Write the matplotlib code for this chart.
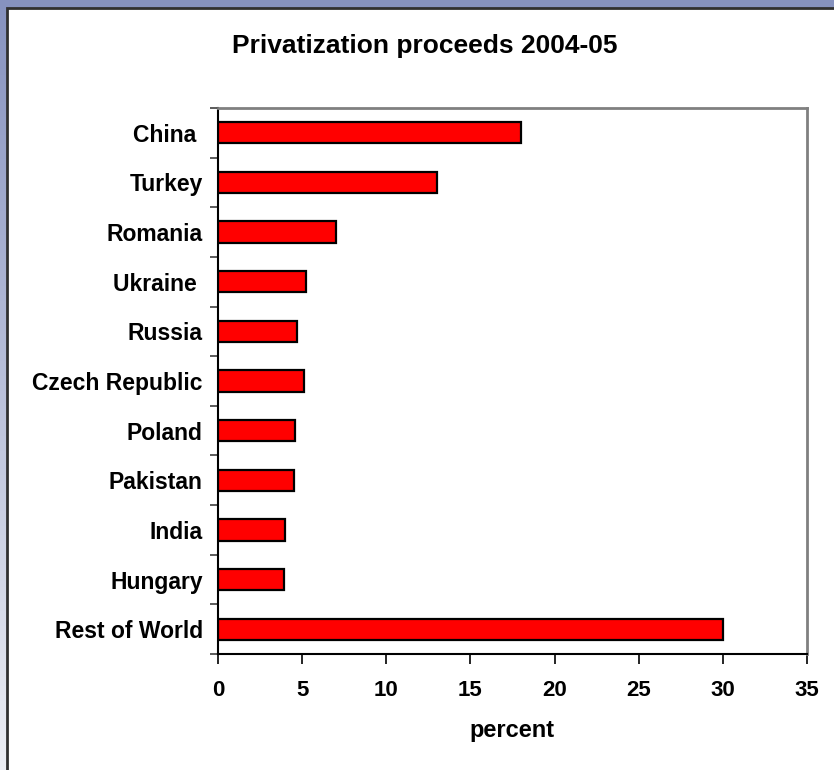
import matplotlib
matplotlib.use("Agg")
import matplotlib.pyplot as plt
import numpy as np
from matplotlib.patches import Rectangle
from matplotlib.ticker import FixedLocator

categories = ["China ", "Turkey", "Romania", "Ukraine ", "Russia", "Czech Republic",
              "Poland", "Pakistan", "India", "Hungary", "Rest of World"]
values = [18.0, 13.0, 7.0, 5.2, 4.7, 5.1, 4.6, 4.5, 4.0, 3.9, 30.0]
xticks = [0, 5, 10, 15, 20, 25, 30, 35]

W, H = 834, 770
fig = plt.figure(figsize=(W / 100, H / 100), dpi=100)

# gradient background
bg = fig.add_axes([0, 0, 1, 1], zorder=-10)
bg.set_axis_off()
grad = np.linspace(0, 1, 256).reshape(-1, 1)
top = np.array([0x86, 0x92, 0xBF]) / 255
bot = np.array([0xEC, 0xEE, 0xF4]) / 255
img = top[None, None, :] * (1 - grad[:, :, None]) + bot[None, None, :] * grad[:, :, None]
bg.imshow(img, aspect="auto", extent=[0, 1, 0, 1], origin="upper")
bg.set_xlim(0, 1)
bg.set_ylim(0, 1)
bg.add_patch(Rectangle((7 / W, -0.05), 1.1, 1 - 8 / H + 0.05, facecolor="white",
                       edgecolor="#303030", linewidth=2, transform=bg.transAxes))

ax = fig.add_axes([218 / W, 116 / H, 589 / W, 546 / H])
ypos = np.arange(len(categories))
ax.barh(ypos, values, height=0.43, color="#FF0000", edgecolor="black", linewidth=1.6, zorder=3)
ax.set_ylim(len(categories) - 0.5, -0.5)
ax.set_xlim(0, 35)

font = "Liberation Sans"
ax.set_yticks(ypos)
ax.set_yticklabels(categories, fontsize=16.5, fontweight="bold", family=font)
ax.yaxis.set_minor_locator(FixedLocator(np.arange(-0.5, len(categories), 1.0)))
ax.tick_params(axis="y", which="major", length=0, pad=11)
ax.tick_params(axis="y", which="minor", length=6, width=1.2, color="#404040", direction="out")

ax.set_xticks(xticks)
ax.set_xticklabels([str(t) for t in xticks], fontsize=16, fontweight="bold", family=font)
ax.tick_params(axis="x", which="major", length=7, width=1.2, direction="out", pad=12)
ax.set_xlabel("percent", fontsize=17, fontweight="bold", family=font, labelpad=13)

for s in ["left", "bottom"]:
    ax.spines[s].set_color("black")
    ax.spines[s].set_linewidth(1.5)
for s in ["top", "right"]:
    ax.spines[s].set_color("#808080")
    ax.spines[s].set_linewidth(2)

fig.text(424.5 / W, 1 - 46 / H, "Privatization proceeds 2004-05",
         ha="center", va="center", fontsize=19, fontweight="bold", family=font)

fig.savefig("out.png", dpi=100)
